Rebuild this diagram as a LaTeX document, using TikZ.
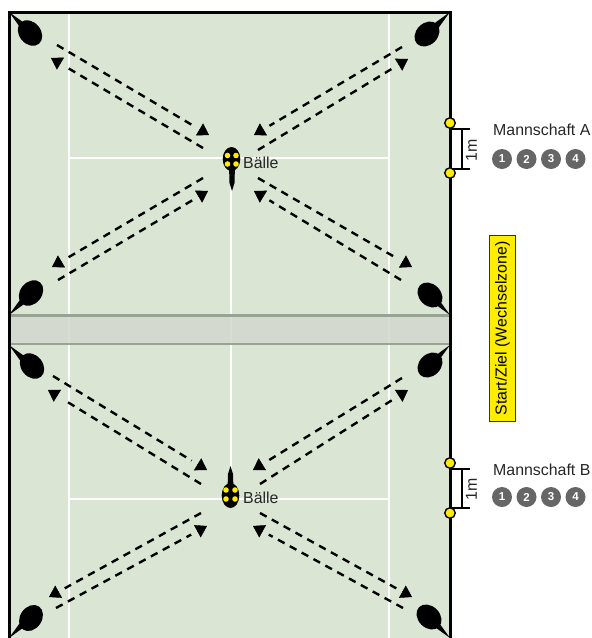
\documentclass[tikz,border=0pt]{standalone}
\usepackage{fontspec}
\setmainfont{Liberation Sans}
\usetikzlibrary{arrows.meta,calc}
\definecolor{court}{HTML}{DBE5D3}
\definecolor{bandfill}{HTML}{D3D8CE}
\definecolor{bandedge}{HTML}{99A394}
\definecolor{ballyellow}{HTML}{FFED00}
\definecolor{digitgray}{HTML}{666666}
\tikzset{
  runline/.style={line width=2.4pt,dash pattern=on 7.5pt off 6pt},
  runtip/.style={line width=.4pt,-{Triangle[length=11pt,width=14pt]}},
  courtline/.style={white,line width=2.4pt},
  bandline/.style={bandedge,line width=2.4pt},
  border/.style={black,line width=3pt,line join=miter},
  marker/.style={circle,draw=black,line width=1.4pt,fill=ballyellow,inner sep=0pt,minimum size=10.5pt},
  ball/.style={circle,fill=ballyellow,inner sep=0pt,minimum size=5.6pt},
  number/.style={circle,fill=digitgray,text=white,inner sep=0pt,minimum size=20pt,font=\fontsize{11.5}{12}\selectfont\bfseries},
  label/.style={font=\fontsize{15.9}{17}\selectfont,inner sep=0pt,text=black!85},
  bracket/.style={black,line width=2pt},
}
\newcommand{\spoonat}[4]{%
  \begin{scope}[shift={(#1)},rotate=#2]
    \fill (0,0) -- (20pt,3.2pt) -- (20pt,-3.2pt) -- cycle;
  \end{scope}
  \begin{scope}[shift={(#3)},rotate=#4]
    \fill (0,0) ellipse[x radius=14pt,y radius=10.8pt];
  \end{scope}
}
\begin{document}
\begin{tikzpicture}[x=1pt,y=-1pt]
\useasboundingbox (0,0) rectangle (592,638);
% court
\fill[court] (9,12) rectangle (450,638);
\draw[courtline] (69,12) -- (69,638);
\draw[courtline] (389,12) -- (389,638);
\draw[courtline] (69,158) -- (389,158);
\draw[courtline] (69,499) -- (389,499);
\draw[courtline] (231,158) -- (231,500);
% exchange band
\fill[bandfill,fill opacity=.88] (9,315.5) rectangle (450,343.7);
\draw[bandline] (9,315.5) -- (450,315.5);
\draw[bandline] (9,343.7) -- (450,343.7);
\draw[border] (9,638) -- (9,12) -- (450,12) -- (450,638);
% corner spoons
\spoonat{9,12}{-45}{30,33}{-50}
\spoonat{450,12}{-135}{427,34}{45}
\spoonat{9,315}{45}{31,293}{50}
\spoonat{450,315}{135}{430,295}{-45}
\spoonat{9,345}{-45}{32,366}{-50}
\spoonat{450,345}{-135}{430,365}{45}
\spoonat{9,638}{45}{31,618}{55}
\spoonat{450,638}{135}{429,617}{-45}
% centre spoons
\fill (232,191) -- (229.5,183) -- (229,165) -- (235,165) -- (234.5,183) -- cycle;
\fill (231.5,159) ellipse[x radius=8.8pt,y radius=12pt];
\fill (230.5,466) -- (228,474) -- (227.5,490) -- (233.5,490) -- (233,474) -- cycle;
\fill (230.5,495.5) ellipse[x radius=8.8pt,y radius=12.5pt];
\node[ball] (a1) at (227.5,155.5) {};
\node[ball] (a2) at (236,155.5) {};
\node[ball] (a3) at (227.5,164) {};
\node[ball] (a4) at (236,164) {};
\node[ball] (b1) at (226,490) {};
\node[ball] (b2) at (235,490) {};
\node[ball] (b3) at (226,499) {};
\node[ball] (b4) at (235,499) {};
\node[label,anchor=west] (balleA) at (243,163) {Bälle};
\node[label,anchor=west] (balleB) at (243,498) {Bälle};
% running lines
\foreach \n/\sx/\sy/\ex/\ey in {
  p1/57/45/209/135, p2/203/148/51/58,
  p3/402/47/254/135, p4/258/150/408/59,
  p5/203/178/52/267, p6/58/280/208/191,
  p7/258/178/412/267, p8/401/280/254/191,
  p9/53/376/207/470, p10/201/484/48/390,
  p11/402/378/253/470, p12/260/484/408/390,
  p13/201/513/49/597, p14/56/608/207/526,
  p15/260/513/412/597, p16/403/608/253/526}{
  \coordinate (\n s) at (\sx,\sy);
  \coordinate (\n e) at (\ex,\ey);
  \draw[runline] (\n s) -- ($(\n e)!18pt!(\n s)$);
  \draw[runtip] ($(\n e)!11.2pt!(\n s)$) -- (\n e);
}
% team A
\node[marker] (mA1) at (450,123) {};
\node[marker] (mA2) at (450,173) {};
\draw[bracket] (452,129) -- (470,129);
\draw[bracket] (452,168.5) -- (470,168.5);
\draw[bracket] (461.5,129) -- (461.5,168.5);
\node[label,rotate=90] (mA) at (471.5,150) {1m};
\node[label,anchor=west] (teamA) at (493,129.5) {Mannschaft A};
\node[number] (a-1) at (502,159) {1};
\node[number] (a-2) at (526.5,159) {2};
\node[number] (a-3) at (551,159) {3};
\node[number] (a-4) at (575.5,159) {4};
% team B
\node[marker] (mB1) at (450,463) {};
\node[marker] (mB2) at (450,513) {};
\draw[bracket] (452,468.5) -- (470,468.5);
\draw[bracket] (452,508) -- (470,508);
\draw[bracket] (461.5,468.5) -- (461.5,508);
\node[label,rotate=90] (mB) at (471.5,489) {1m};
\node[label,anchor=west] (teamB) at (493,470) {Mannschaft B};
\node[number] (b-1) at (502,497) {1};
\node[number] (b-2) at (526.5,497) {2};
\node[number] (b-3) at (551,497) {3};
\node[number] (b-4) at (575.5,497) {4};
% zone label
\node[draw=black!80,line width=1pt,fill=ballyellow,rotate=90,minimum width=186pt,minimum height=26pt,inner sep=0pt,font=\fontsize{15.9}{17}\selectfont] (zone) at (502.5,328.5) {Start/Ziel (Wechselzone)};
\end{tikzpicture}
\end{document}
